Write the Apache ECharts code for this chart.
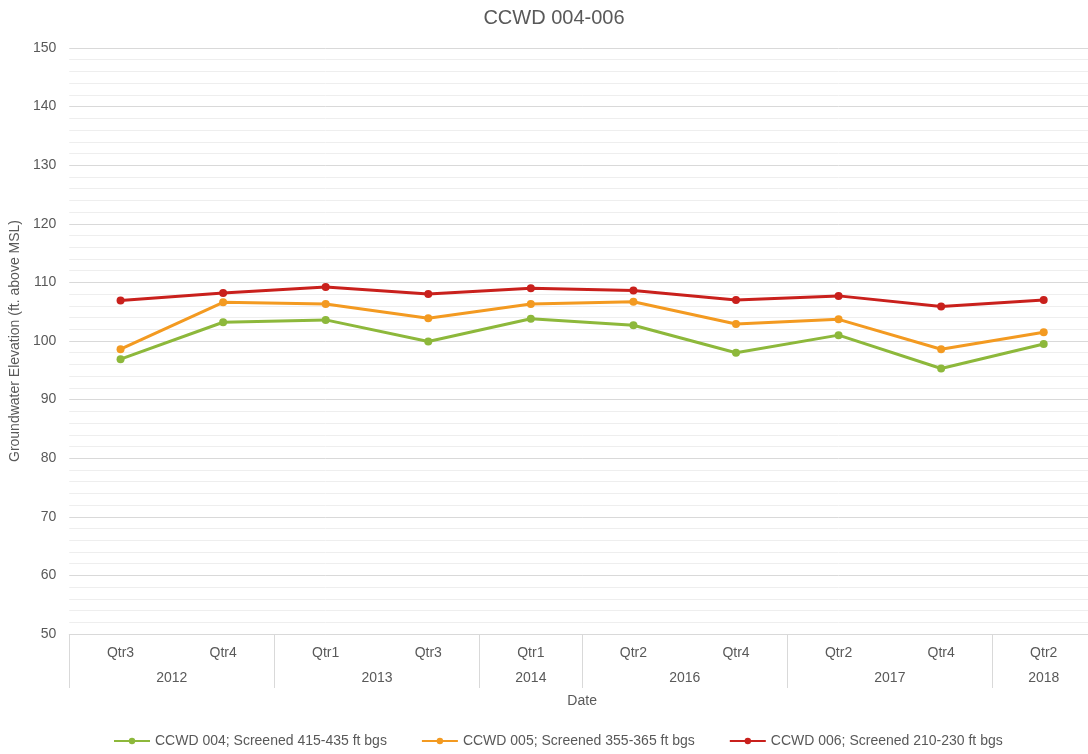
<!DOCTYPE html>
<html>
<head>
<meta charset="utf-8">
<title>CCWD 004-006</title>
<script src="https://cdn.jsdelivr.net/npm/echarts@6/dist/echarts.min.js"></script>
<style>
  html, body { margin: 0; padding: 0; background: #ffffff; overflow: hidden; }
  /* the plot area runs a few pixels past the right edge of the window */
  #chart { width: 1095px; height: 754px; }
</style>
</head>
<body>
<div id="chart"></div>
<script>
// Quarter labels (inner axis level) and year groups (outer axis level)
const quarters = ['Qtr3', 'Qtr4', 'Qtr1', 'Qtr3', 'Qtr1', 'Qtr2', 'Qtr4', 'Qtr2', 'Qtr4', 'Qtr2'];
const years = ['2012', '2013', '2014', '2016', '2017', '2018'];
const yearSpans = [2, 2, 1, 2, 2, 1];

// Groundwater elevation, ft above MSL
const ccwd004 = [96.9, 103.2, 103.6, 99.9, 103.8, 102.7, 98.0, 101.0, 95.3, 99.5];
const ccwd005 = [98.6, 106.6, 106.3, 103.9, 106.3, 106.7, 102.9, 103.7, 98.6, 101.5];
const ccwd006 = [106.9, 108.2, 109.2, 108.0, 109.0, 108.6, 107.0, 107.7, 105.9, 107.0];

const seriesNames = [
  'CCWD 004; Screened 415-435 ft bgs',
  'CCWD 005; Screened 355-365 ft bgs',
  'CCWD 006; Screened 210-230 ft bgs'
];
const seriesColors = ['#8db83b', '#f39a21', '#c9201c'];

// Year group boundaries (category indices) and centres (in category units)
const groupStarts = [];
const groupCenters = [];
let acc = 0;
yearSpans.forEach(function (s) {
  groupStarts.push(acc);
  groupCenters.push(acc + s / 2);
  acc += s;
});

const FONT = "'Liberation Sans', Arial, sans-serif";
const TEXT = '#595959';

const chart = echarts.init(document.getElementById('chart'), null, { renderer: 'canvas' });

function lineSeries(name, data, color, z) {
  return {
    name: name,
    type: 'line',
    data: data,
    xAxisIndex: 0,
    yAxisIndex: 0,
    symbol: 'circle',
    symbolSize: 8,
    z: z,
    lineStyle: { color: color, width: 3 },
    itemStyle: { color: color },
    emphasis: { disabled: true },
    animation: false
  };
}

chart.setOption({
  backgroundColor: '#ffffff',
  animation: false,
  textStyle: { fontFamily: FONT },
  title: {
    text: 'CCWD 004-006',
    left: 549,
    textAlign: 'center',
    top: 3,
    textStyle: { color: TEXT, fontSize: 20, fontWeight: 'normal', fontFamily: FONT }
  },
  legend: {
    left: 108,
    top: 729,
    itemWidth: 36,
    itemHeight: 8,
    itemGap: 34,
    textStyle: { color: TEXT, fontSize: 14, fontFamily: FONT },
    data: seriesNames
  },
  grid: { left: 68, right: 0, top: 48, bottom: 120, containLabel: false },
  xAxis: [
    {
      type: 'category',
      data: quarters,
      boundaryGap: true,
      name: 'Date',
      nameLocation: 'middle',
      nameGap: 60,
      nameTextStyle: { color: TEXT, fontSize: 14, fontFamily: FONT },
      axisLine: { show: true, lineStyle: { color: '#d9d9d9', width: 1 } },
      axisTick: {
        show: true,
        length: 54,
        interval: function (index) { return groupStarts.indexOf(index) !== -1; },
        lineStyle: { color: '#d9d9d9', width: 1 }
      },
      axisLabel: { interval: 0, margin: 12, color: TEXT, fontSize: 14, fontFamily: FONT },
      splitLine: { show: false }
    },
    {
      type: 'value',
      position: 'bottom',
      min: 0,
      max: quarters.length,
      interval: 0.5,
      axisLine: { show: false },
      axisTick: { show: false },
      splitLine: { show: false },
      axisLabel: {
        margin: 37,
        color: TEXT,
        fontSize: 14,
        fontFamily: FONT,
        showMinLabel: false,
        showMaxLabel: false,
        formatter: function (v) {
          const i = groupCenters.indexOf(v);
          return i === -1 ? '' : years[i];
        }
      }
    }
  ],
  yAxis: {
    type: 'value',
    min: 50,
    max: 150,
    interval: 10,
    name: 'Groundwater Elevation (ft. above MSL)',
    nameLocation: 'middle',
    nameGap: 39,
    nameTextStyle: { color: TEXT, fontSize: 14, fontFamily: FONT },
    axisLine: { show: false },
    axisTick: { show: false },
    axisLabel: { margin: 13, color: TEXT, fontSize: 14, fontFamily: FONT },
    splitLine: { show: true, lineStyle: { color: '#d9d9d9', width: 1 } },
    minorTick: { show: false, splitNumber: 5 },
    minorSplitLine: { show: true, lineStyle: { color: '#eeeeee', width: 1 } }
  },
  series: [
    lineSeries(seriesNames[0], ccwd004, seriesColors[0], 2),
    lineSeries(seriesNames[1], ccwd005, seriesColors[1], 3),
    lineSeries(seriesNames[2], ccwd006, seriesColors[2], 4)
  ]
});
</script>
</body>
</html>
